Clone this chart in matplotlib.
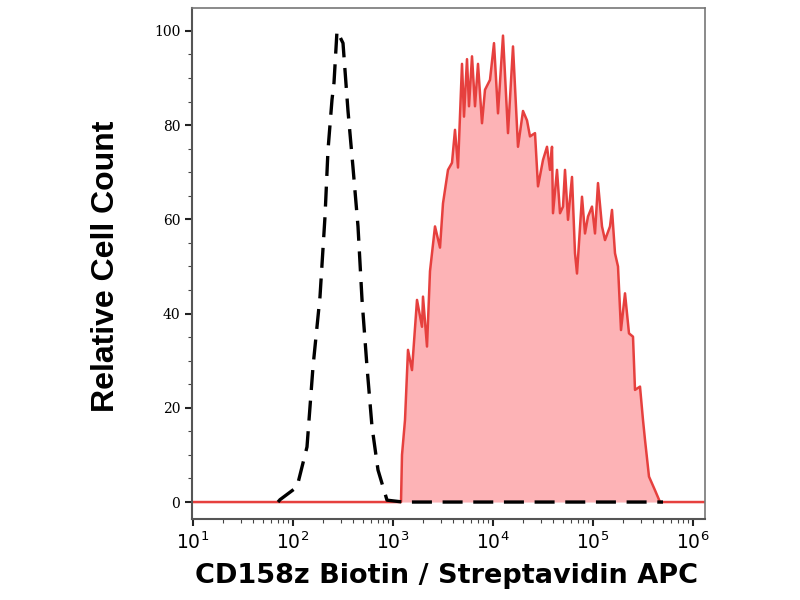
import numpy as np
import matplotlib
matplotlib.use('Agg')
import matplotlib.pyplot as plt
from matplotlib.ticker import LogLocator, MultipleLocator, FixedLocator

# Isotype control (dashed), log10 of fluorescence and relative count
ctrl_log = [1.85, 1.87, 2.04, 2.14, 2.20, 2.27, 2.32, 2.35, 2.39, 2.41, 2.44, 2.50,
            2.55, 2.60, 2.65, 2.69, 2.74, 2.79, 2.85, 2.94, 3.10, 5.70]
ctrl_cnt = [0, 0.5, 3.2, 11.7, 28.7, 43.6, 60.6, 74.7, 85.4, 89, 100, 97.4,
            83, 71, 58.5, 43, 28.7, 16, 6.8, 0.4, 0, 0]

# Stained sample (red filled)
samp_log = [1.00, 3.08, 3.09, 3.12, 3.15, 3.19, 3.24, 3.29, 3.30, 3.34, 3.37, 3.42,
            3.47, 3.50, 3.55, 3.59, 3.62, 3.65, 3.69, 3.71, 3.74, 3.76, 3.79, 3.82,
            3.85, 3.89, 3.92, 3.97, 4.01, 4.05, 4.10, 4.15, 4.20, 4.25, 4.30, 4.34,
            4.37, 4.42, 4.45, 4.50, 4.54, 4.57, 4.59, 4.60, 4.64, 4.67, 4.70, 4.72,
            4.75, 4.79, 4.82, 4.84, 4.89, 4.92, 4.95, 4.99, 5.02, 5.05, 5.09, 5.12,
            5.17, 5.19, 5.22, 5.25, 5.28, 5.32, 5.36, 5.40, 5.42, 5.47, 5.50, 5.52,
            5.56, 5.62, 5.67, 6.12]
samp_cnt = [0, 0, 10, 17.4, 32.3, 28, 42.9, 37.2, 43.6, 33, 49, 58.5,
            54, 63.4, 70.5, 72, 79, 71, 93, 81.8, 94, 84, 94.6, 84,
            93, 80.4, 87.5, 89.6, 97.4, 82.5, 99, 78.3, 96.7, 75.4, 83, 81,
            77.6, 78.3, 67, 72.6, 75.4, 70.5, 75.4, 61.3, 70.5, 61.3, 62.7, 70.5,
            59.9, 69, 52.8, 48.5, 64.8, 57, 60.6, 62.7, 57, 67.7, 58.5, 55.6,
            58.5, 62, 52.8, 50, 36.5, 44.3, 35.8, 35.1, 23.8, 24.5, 17.4, 13.2,
            5.4, 2.5, 0, 0]

plt.rcParams['mathtext.fontset'] = 'dejavuserif'

fig = plt.figure(figsize=(8, 6), dpi=100)
ax = fig.add_axes([0.24, 0.135, 0.64125, 0.852])

sx = 10 ** np.array(samp_log)
cx = 10 ** np.array(ctrl_log)
ax.fill_between(sx, 0, samp_cnt, color='#fdb3b6', lw=0, zorder=1)
ax.plot(sx, samp_cnt, color='#e6403e', lw=1.8, zorder=2)
ax.plot(cx, ctrl_cnt, color='black', lw=2.4, ls=(0, (6, 3.2)), zorder=3)

ax.set_xscale('log')
ax.set_xlim(10 ** 0.99, 10 ** 6.12)
ax.set_ylim(-3.6, 104.9)

ax.xaxis.set_major_locator(FixedLocator([1e1, 1e2, 1e3, 1e4, 1e5, 1e6]))
ax.xaxis.set_minor_locator(LogLocator(base=10, subs=np.arange(2, 10), numticks=20))
ax.yaxis.set_major_locator(MultipleLocator(20))
ax.yaxis.set_minor_locator(MultipleLocator(5))

ax.tick_params(axis='both', which='major', direction='out', length=5, width=1.5,
               color='#222222', labelsize=10)
ax.tick_params(axis='both', which='minor', direction='out', length=3, width=0.8,
               color='#444444')
ax.tick_params(axis='x', labelsize=13.5, pad=4)
for lab in ax.get_yticklabels():
    lab.set_fontfamily('DejaVu Serif')

for side in ['top', 'right']:
    ax.spines[side].set_color('#777777')
    ax.spines[side].set_linewidth(1.2)
for side in ['left', 'bottom']:
    ax.spines[side].set_color('#555555')
    ax.spines[side].set_linewidth(1.5)

fig.text(446.5 / 800, 1 - 576 / 600, 'CD158z Biotin / Streptavidin APC',
         fontsize=19.5, fontweight='bold', family='DejaVu Sans',
         ha='center', va='center')
fig.text(106 / 800, 1 - 266 / 600, 'Relative Cell Count', fontsize=23,
         fontweight='bold', family='Liberation Sans', rotation=90,
         ha='center', va='center')

fig.savefig('out.png', dpi=100)
